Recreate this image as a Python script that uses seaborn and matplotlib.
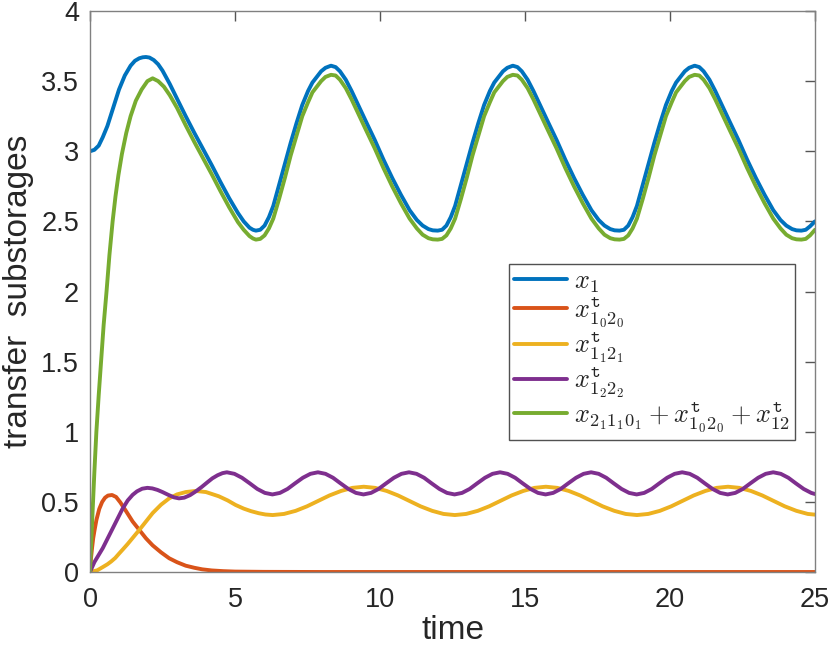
import matplotlib
matplotlib.use("Agg")
import matplotlib.pyplot as plt
import seaborn as sns

# ---------------- data ----------------
t_x1 = [0, 0.15, 0.3, 0.44, 0.6, 0.8, 1.0, 1.2, 1.4, 1.55, 1.7, 1.82, 1.93, 2.05, 2.2, 2.35, 2.5, 2.75, 3.0, 3.3, 3.6, 3.9, 4.2, 4.5, 4.8, 5.1, 5.3, 5.5, 5.62,
        5.72, 5.87, 6.02, 6.17, 6.32, 6.52, 6.72, 6.92, 7.12, 7.32, 7.52, 7.67, 7.82, 7.97, 8.12, 8.31, 8.47, 8.62, 8.82, 9.02, 9.27, 9.52, 9.82, 10.12, 10.42, 10.72, 11.02, 11.27, 11.47, 11.67, 11.82,
        11.99, 12.14, 12.29, 12.44, 12.59, 12.79, 12.99, 13.19, 13.39, 13.59, 13.79, 13.94, 14.09, 14.24, 14.39, 14.58, 14.74, 14.89, 15.09, 15.29, 15.54, 15.79, 16.09, 16.39, 16.69, 16.99, 17.29, 17.54, 17.74, 17.94, 18.09,
        18.26, 18.41, 18.56, 18.71, 18.86, 19.06, 19.26, 19.46, 19.66, 19.86, 20.06, 20.21, 20.36, 20.51, 20.66, 20.85, 21.01, 21.16, 21.36, 21.56, 21.81, 22.06, 22.36, 22.66, 22.96, 23.26, 23.56, 23.81, 24.01, 24.21, 24.36,
        24.53, 24.68, 24.83, 25.0]
x1 = [3.00, 3.01, 3.04, 3.10, 3.18, 3.31, 3.44, 3.54, 3.61, 3.645, 3.663, 3.670, 3.672, 3.668, 3.65, 3.62, 3.575, 3.48, 3.375, 3.25, 3.13, 3.015, 2.90, 2.78, 2.665, 2.56, 2.50, 2.455, 2.44,
      2.434, 2.44, 2.47, 2.53, 2.61, 2.76, 2.91, 3.06, 3.20, 3.33, 3.43, 3.49, 3.53, 3.57, 3.595, 3.61, 3.60, 3.57, 3.51, 3.43, 3.32, 3.21, 3.08, 2.94, 2.81, 2.69, 2.58, 2.51, 2.47, 2.445, 2.436,
      2.434, 2.44, 2.47, 2.53, 2.61, 2.76, 2.91, 3.06, 3.20, 3.33, 3.43, 3.49, 3.53, 3.57, 3.595, 3.61, 3.60, 3.57, 3.51, 3.43, 3.32, 3.21, 3.08, 2.94, 2.81, 2.69, 2.58, 2.51, 2.47, 2.445, 2.436,
      2.434, 2.44, 2.47, 2.53, 2.61, 2.76, 2.91, 3.06, 3.20, 3.33, 3.43, 3.49, 3.53, 3.57, 3.595, 3.61, 3.60, 3.57, 3.51, 3.43, 3.32, 3.21, 3.08, 2.94, 2.81, 2.69, 2.58, 2.51, 2.47, 2.445, 2.436,
      2.434, 2.44, 2.465, 2.50]

t_sum = [0, 0.05, 0.1, 0.15, 0.22, 0.3, 0.38, 0.47, 0.57, 0.67, 0.78, 0.88, 0.98, 1.1, 1.25, 1.4, 1.58, 1.78, 1.98, 2.16, 2.35, 2.55, 2.75, 3.0, 3.3, 3.6, 3.9, 4.2, 4.5, 4.8, 5.1, 5.3, 5.5, 5.62,
         5.72, 5.87, 6.02, 6.17, 6.32, 6.52, 6.72, 6.92, 7.12, 7.32, 7.52, 7.67, 7.82, 7.97, 8.12, 8.31, 8.47, 8.62, 8.82, 9.02, 9.27, 9.52, 9.82, 10.12, 10.42, 10.72, 11.02, 11.27, 11.47, 11.67, 11.82,
         11.99, 12.14, 12.29, 12.44, 12.59, 12.79, 12.99, 13.19, 13.39, 13.59, 13.79, 13.94, 14.09, 14.24, 14.39, 14.58, 14.74, 14.89, 15.09, 15.29, 15.54, 15.79, 16.09, 16.39, 16.69, 16.99, 17.29, 17.54, 17.74, 17.94, 18.09,
         18.26, 18.41, 18.56, 18.71, 18.86, 19.06, 19.26, 19.46, 19.66, 19.86, 20.06, 20.21, 20.36, 20.51, 20.66, 20.85, 21.01, 21.16, 21.36, 21.56, 21.81, 22.06, 22.36, 22.66, 22.96, 23.26, 23.56, 23.81, 24.01, 24.21, 24.36,
         24.53, 24.68, 24.83, 25.0]
x_sum = [0, 0.25, 0.48, 0.71, 1.00, 1.26, 1.50, 1.76, 2.00, 2.26, 2.50, 2.68, 2.83, 2.98, 3.13, 3.25, 3.36, 3.44, 3.50, 3.52, 3.50, 3.46, 3.40, 3.31, 3.185, 3.065, 2.95, 2.835, 2.715, 2.60, 2.495, 2.44, 2.395, 2.378,
         2.37, 2.375, 2.40, 2.45, 2.52, 2.66, 2.81, 2.97, 3.11, 3.25, 3.35, 3.42, 3.46, 3.50, 3.53, 3.545, 3.54, 3.51, 3.45, 3.37, 3.26, 3.15, 3.02, 2.88, 2.75, 2.63, 2.52, 2.45, 2.405, 2.38, 2.372,
         2.37, 2.375, 2.40, 2.45, 2.52, 2.66, 2.81, 2.97, 3.11, 3.25, 3.35, 3.42, 3.46, 3.50, 3.53, 3.545, 3.54, 3.51, 3.45, 3.37, 3.26, 3.15, 3.02, 2.88, 2.75, 2.63, 2.52, 2.45, 2.405, 2.38, 2.372,
         2.37, 2.375, 2.40, 2.45, 2.52, 2.66, 2.81, 2.97, 3.11, 3.25, 3.35, 3.42, 3.46, 3.50, 3.53, 3.545, 3.54, 3.51, 3.45, 3.37, 3.26, 3.15, 3.02, 2.88, 2.75, 2.63, 2.52, 2.45, 2.405, 2.38, 2.372,
         2.37, 2.375, 2.40, 2.44]

t_t0 = [0, 0.03, 0.07, 0.11, 0.15, 0.22, 0.32, 0.42, 0.52, 0.62, 0.76, 0.9, 1.05, 1.24, 1.47, 1.70, 1.93, 2.16, 2.45, 2.73, 3.0, 3.3, 3.6, 3.87, 4.2, 4.6, 5.0, 6.0, 8.0, 25.0]
x_t0 = [0, 0.09, 0.17, 0.24, 0.29, 0.37, 0.45, 0.50, 0.530, 0.545, 0.549, 0.535, 0.495, 0.435, 0.36, 0.30, 0.24, 0.19, 0.14, 0.098, 0.07, 0.045, 0.03, 0.019, 0.011, 0.006, 0.003, 0.001, 0.0, 0.0]

t_t1 = [0, 0.25, 0.44, 0.6, 0.73, 0.87, 1.01, 1.15, 1.30, 1.50, 1.70, 1.93, 2.16, 2.45, 2.73, 3.0, 3.30, 3.65, 4.0, 4.44, 4.75, 5.02, 5.3, 5.55, 5.82, 6.05,
        6.30, 6.69, 7.09, 7.48, 7.87, 8.26, 8.66, 9.05, 9.44, 9.83, 10.23, 10.62, 11.01, 11.40, 11.80, 12.19,
        12.58, 12.97, 13.37, 13.76, 14.15, 14.54, 14.94, 15.33, 15.72, 16.11, 16.51, 16.90, 17.29, 17.68, 18.08, 18.47,
        18.86, 19.25, 19.65, 20.04, 20.43, 20.82, 21.22, 21.61, 22.00, 22.39, 22.79, 23.18, 23.57, 23.96, 24.36, 24.75, 25.0]
x_t1 = [0, 0.012, 0.035, 0.055, 0.075, 0.10, 0.133, 0.165, 0.20, 0.25, 0.30, 0.36, 0.42, 0.48, 0.525, 0.553, 0.570, 0.578, 0.570, 0.540, 0.51, 0.478, 0.452, 0.434, 0.419, 0.410,
        0.406, 0.414, 0.436, 0.468, 0.507, 0.546, 0.578, 0.600, 0.608, 0.600, 0.578, 0.546, 0.507, 0.468, 0.436, 0.414,
        0.406, 0.414, 0.436, 0.468, 0.507, 0.546, 0.578, 0.600, 0.608, 0.600, 0.578, 0.546, 0.507, 0.468, 0.436, 0.414,
        0.406, 0.414, 0.436, 0.468, 0.507, 0.546, 0.578, 0.600, 0.608, 0.600, 0.578, 0.546, 0.507, 0.468, 0.436, 0.414, 0.409]

t_t2 = [0, 0.15, 0.44, 0.78, 1.12, 1.30, 1.47, 1.62, 1.80, 1.98, 2.15, 2.33, 2.50, 2.70, 2.90, 3.07, 3.25, 3.45, 3.65, 3.85, 4.05, 4.22, 4.40, 4.57,
        4.72, 4.98, 5.24, 5.51, 5.77, 6.03, 6.29, 6.55, 6.81, 7.07, 7.34, 7.60,
        7.86, 8.12, 8.38, 8.64, 8.91, 9.17, 9.43, 9.69, 9.95, 10.21, 10.48, 10.74,
        11.00, 11.26, 11.52, 11.78, 12.05, 12.31, 12.57, 12.83, 13.09, 13.35, 13.62, 13.88,
        14.14, 14.40, 14.66, 14.92, 15.19, 15.45, 15.71, 15.97, 16.23, 16.49, 16.76, 17.02,
        17.28, 17.54, 17.80, 18.06, 18.33, 18.59, 18.85, 19.11, 19.37, 19.63, 19.90, 20.16,
        20.42, 20.68, 20.94, 21.20, 21.47, 21.73, 21.99, 22.25, 22.51, 22.77, 23.04, 23.30,
        23.56, 23.82, 24.08, 24.34, 24.61, 24.87, 25.0]
x_t2 = [0, 0.07, 0.17, 0.31, 0.45, 0.51, 0.55, 0.575, 0.594, 0.600, 0.596, 0.585, 0.570, 0.550, 0.532, 0.525, 0.530, 0.548, 0.575, 0.606, 0.640, 0.668, 0.690, 0.705,
        0.711, 0.700, 0.672, 0.632, 0.592, 0.564, 0.553, 0.564, 0.592, 0.632, 0.672, 0.700,
        0.711, 0.700, 0.672, 0.632, 0.592, 0.564, 0.553, 0.564, 0.592, 0.632, 0.672, 0.700,
        0.711, 0.700, 0.672, 0.632, 0.592, 0.564, 0.553, 0.564, 0.592, 0.632, 0.672, 0.700,
        0.711, 0.700, 0.672, 0.632, 0.592, 0.564, 0.553, 0.564, 0.592, 0.632, 0.672, 0.700,
        0.711, 0.700, 0.672, 0.632, 0.592, 0.564, 0.553, 0.564, 0.592, 0.632, 0.672, 0.700,
        0.711, 0.700, 0.672, 0.632, 0.592, 0.564, 0.553, 0.564, 0.592, 0.632, 0.672, 0.700,
        0.711, 0.700, 0.672, 0.632, 0.592, 0.564, 0.556]

labels = [r"$x_1$",
          r"$x^{\mathtt{t}}_{1_0 2_0}$",
          r"$x^{\mathtt{t}}_{1_1 2_1}$",
          r"$x^{\mathtt{t}}_{1_2 2_2}$",
          r"$x_{2_1 1_1 0_1} + x^{\mathtt{t}}_{1_0 2_0} + x^{\mathtt{t}}_{12}$"]
colors = ["#0072BD", "#D95319", "#EDB120", "#7E2F8E", "#77AC30"]

x_ticks = [0, 5, 10, 15, 20, 25]
x_tick_labels = ["0", "5", "10", "15", "20", "25"]
y_ticks = [0, 0.5, 1, 1.5, 2, 2.5, 3, 3.5, 4]
y_tick_labels = ["0", "0.5", "1", "1.5", "2", "2.5", "3", "3.5", "4"]

# ---------------- drawing ----------------
sns.set_theme(style="white")
plt.rcParams["font.family"] = ["Liberation Sans", "DejaVu Sans"]
plt.rcParams["mathtext.fontset"] = "cm"

fig = plt.figure(figsize=(8.3, 6.55), dpi=100)
ax = fig.add_axes([90 / 830, 1 - 572 / 655, 725 / 830, 561 / 655])

series = [(t_x1, x1), (t_t0, x_t0), (t_t1, x_t1), (t_t2, x_t2), (t_sum, x_sum)]
for (t, v), c, lab in zip(series, colors, labels):
    sns.lineplot(x=t, y=v, color=c, label=lab, ax=ax, linewidth=2.8,
                 sort=False, estimator=None, solid_joinstyle="round")

ax.set_xlim(0, 25)
ax.set_ylim(0, 4)
ax.set_xticks(x_ticks)
ax.set_xticklabels(x_tick_labels)
ax.set_yticks(y_ticks)
ax.set_yticklabels(y_tick_labels)
ax.tick_params(axis="both", direction="in", length=7, width=1, top=True, right=True,
               labelsize=19.5, color="#555555", labelcolor="#262626")
ax.tick_params(axis="x", pad=11)
ax.tick_params(axis="y", pad=8)
for s in ax.spines.values():
    s.set_color("#808080")
    s.set_linewidth(1)

ax.set_xlabel("time", fontsize=24, color="#262626", labelpad=1)
ax.set_ylabel("transfer  substorages", fontsize=24, color="#262626", labelpad=5)

leg = ax.legend(loc="upper left", bbox_to_anchor=(0.578, 0.549), frameon=True,
                fancybox=False, fontsize=19, handlelength=2.0, handletextpad=0.25,
                borderpad=0.2, labelspacing=0.0, borderaxespad=0)
leg.get_frame().set_edgecolor("#262626")
leg.get_frame().set_linewidth(1)

fig.savefig("out.png", dpi=100)
